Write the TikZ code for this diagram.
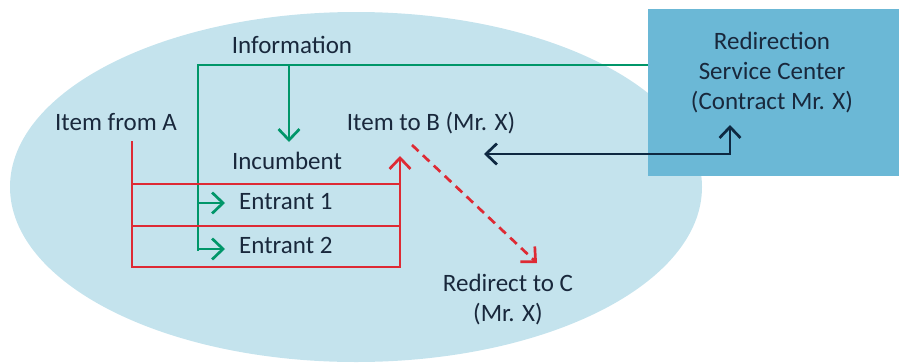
\documentclass[tikz,border=0pt]{standalone}
\usepackage{fontspec}
\setmainfont{Carlito}
\usetikzlibrary{arrows.meta}

\definecolor{elipse}{RGB}{196,227,237}
\definecolor{caja}{RGB}{107,184,214}
\definecolor{verde}{RGB}{0,150,105}
\definecolor{rojo}{RGB}{222,42,52}
\definecolor{marino}{RGB}{14,40,65}
\definecolor{texto}{RGB}{25,40,60}

\tikzset{
  etiqueta/.style={text=texto, inner sep=0pt, anchor=base},
  flujo/.style={line width=2.7pt},
}

\begin{document}
\begin{tikzpicture}[x=1pt,y=-1pt,>={Straight Barb[length=11pt,width=21pt]},font=\fontsize{25}{30}\selectfont]
        \useasboundingbox (0,0) rectangle (899,362);

        % Fondo
        \fill[elipse] (356,187) ellipse [x radius=346, y radius=175];
        \node[fill=caja, minimum width=251pt, minimum height=167pt, inner sep=0pt] (centro) at (773.5,92) {};
        \node[etiqueta, align=center] (centroTxt) at (772,109) {Redirection\\Service Center\\(Contract Mr. X)};

        % Textos
        \node[etiqueta] (info) at (292,53) {Information};
        \node[etiqueta] (itemA) at (116,130) {Item from A};
        \node[etiqueta] (incumbente) at (287,169) {Incumbent};
        \node[etiqueta, anchor=base west] (entrante1) at (239,209) {Entrant 1};
        \node[etiqueta, anchor=base west] (entrante2) at (239,253) {Entrant 2};
        \node[etiqueta] (itemB) at (431,130) {Item to B (Mr. X)};
        \node[etiqueta, align=center] (redirC) at (508,321) {Redirect to C\\(Mr. X)};

        % Puntos de las lineas
        \coordinate (esquina) at (198,65);
        \coordinate (bajaInfo) at (289,65);
        \coordinate (rojoArriba) at (132,141);
        \coordinate (rojoAbajo) at (132,267);
        \coordinate (puntaB) at (400,156);
        \coordinate (salidaB) at (412,145);
        \coordinate (puntaC) at (537,263);
        \coordinate (codo) at (730,154);
        \coordinate (puntaCentro) at (730,125);
        \coordinate (puntaItem) at (484,154);

        % Informacion (verde)
        \draw[flujo,verde] (centro.west |- esquina) -- (esquina) -- (198,251);
        \draw[flujo,verde,->] (bajaInfo) -- (289,142);
        \draw[flujo,verde,->] (198,203) -- (225,203);
        \draw[flujo,verde,->] (198,249) -- (225,249);

        % Envios (rojo)
        \draw[flujo,rojo,->] (rojoArriba) -- (rojoAbajo) -| (puntaB);
        \draw[flujo,rojo] (132,184) -- (400,184);
        \draw[flujo,rojo] (132,226) -- (400,226);
        \draw[flujo,rojo,->,dash pattern=on 9pt off 6pt] (salidaB) -- (puntaC);

        % Contrato
        \draw[flujo,marino,<->] (puntaItem) -- (codo) -- (puntaCentro);
\end{tikzpicture}
\end{document}
